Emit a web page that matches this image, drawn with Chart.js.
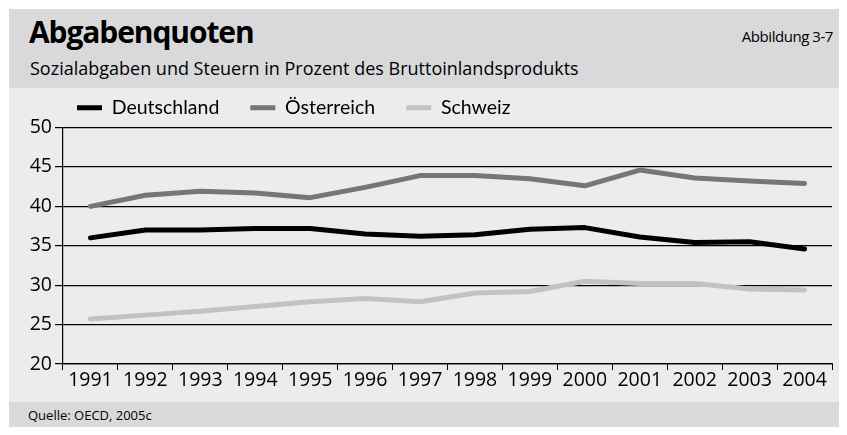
<!DOCTYPE html>
<html>
<head>
<meta charset="utf-8">
<script src="https://cdn.jsdelivr.net/npm/chart.js@4"></script>
<style>
  html, body { margin: 0; padding: 0; background: #fff; }
  body { width: 847px; height: 435px; position: relative; overflow: hidden; font-family: "Open Sans", sans-serif; }
  #box { position: absolute; left: 9px; top: 9px; width: 830px; height: 418px; background: #ececec; }
  #head { position: absolute; left: 0; top: 0; width: 830px; height: 79px; background: #d9d9db; }
  #title { position: absolute; left: 20px; top: 2px; font-size: 30px; font-weight: bold; color: #000; letter-spacing: -1.1px; }
  #sub { position: absolute; left: 21px; top: 47px; font-size: 18px; color: #000; letter-spacing: 0px; }
  #abb { position: absolute; right: 6px; top: 17px; font-size: 15px; color: #000; letter-spacing: -0.45px; }
  #foot { position: absolute; left: 0; top: 393px; width: 830px; height: 25px; background: #d9d9db; }
  #src { position: absolute; left: 19px; top: 4px; font-size: 13px; color: #000; letter-spacing: 0px; }
  #c { position: absolute; left: 9px; top: 88px; }
</style>
</head>
<body>
<div id="box">
  <div id="head">
    <div id="title">Abgabenquoten</div>
    <div id="sub">Sozialabgaben und Steuern in Prozent des Bruttoinlandsprodukts</div>
    <div id="abb">Abbildung 3-7</div>
  </div>
  <div id="foot"><div id="src">Quelle: OECD, 2005c</div></div>
</div>
<canvas id="c" width="830" height="314"></canvas>
<script>
const years = ["1991","1992","1993","1994","1995","1996","1997","1998","1999","2000","2001","2002","2003","2004"];
const deutschland = [36.0, 37.0, 37.0, 37.2, 37.2, 36.5, 36.2, 36.4, 37.1, 37.3, 36.1, 35.4, 35.5, 34.6];
const oesterreich = [40.0, 41.4, 41.9, 41.7, 41.1, 42.4, 43.9, 43.9, 43.5, 42.6, 44.6, 43.6, 43.2, 42.9];
const schweiz = [25.7, 26.2, 26.7, 27.3, 27.9, 28.3, 27.9, 29.0, 29.2, 30.5, 30.2, 30.2, 29.5, 29.4];
const yTicks = [20, 25, 30, 35, 40, 45, 50];

function ds(label, data, color) {
  return { label, data, borderColor: color, backgroundColor: color, borderWidth: 5,
           borderCapStyle: 'round', borderJoinStyle: 'round', pointRadius: 0, pointStyle: 'line',
           tension: 0, fill: false };
}

const legendShift = {
  id: 'legendShift',
  afterLayout(chart) { chart.legend.left = 37; }
};

new Chart(document.getElementById('c'), {
  type: 'line',
  data: {
    labels: years,
    datasets: [
      ds('Deutschland', deutschland, '#000000'),
      ds('Österreich', oesterreich, '#767676'),
      ds('Schweiz', schweiz, '#c2c2c2')
    ]
  },
  plugins: [legendShift],
  options: {
    responsive: false,
    devicePixelRatio: 1,
    animation: false,
    layout: { padding: { left: 0, right: 7, top: -21, bottom: 0 } },
    plugins: {
      tooltip: { enabled: false },
      legend: {
        position: 'top', align: 'start',
        labels: { usePointStyle: true, pointStyleWidth: 25, boxHeight: 5, padding: 31,
                  color: '#000', font: { family: 'Lato', size: 19.5 } }
      }
    },
    scales: {
      x: {
        offset: true,
        grid: { drawOnChartArea: false, drawTicks: true, tickLength: 6, color: '#000', lineWidth: 1, offset: true },
        border: { display: true, color: '#000', width: 1.2 },
        ticks: { color: '#000', font: { family: 'Open Sans', size: 19.5 }, padding: -1, maxRotation: 0, autoSkip: false },
        afterFit: s => { s.height = 38; }
      },
      y: {
        min: 20, max: 50,
        afterBuildTicks: s => { s.ticks = yTicks.map(v => ({ value: v })); },
        grid: { color: '#000', lineWidth: 1.2, tickLength: 8, drawTicks: true },
        border: { display: true, color: '#000', width: 1.2 },
        ticks: { color: '#000', font: { family: 'Open Sans', size: 19.5 }, padding: 3 },
        afterFit: s => { s.width = 54; }
      }
    }
  }
});
</script>
</body>
</html>
